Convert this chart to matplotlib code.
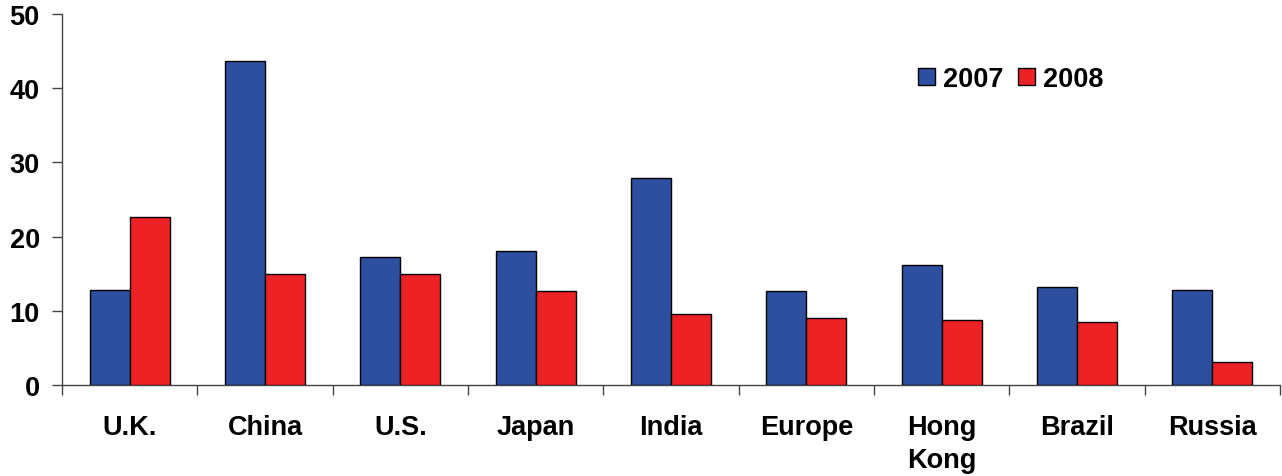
import numpy as np
from matplotlib import pyplot as plt
from matplotlib.patches import Patch

plt.rcParams['font.family'] = ['Liberation Sans', 'DejaVu Sans']
plt.rcParams['font.weight'] = 'bold'

categories = ['U.K.', 'China', 'U.S.', 'Japan', 'India', 'Europe',
              'Hong\nKong', 'Brazil', 'Russia']
values_2007 = [12.8, 43.7, 17.3, 18.1, 27.9, 12.7, 16.2, 13.2, 12.8]
values_2008 = [22.6, 15.0, 15.0, 12.7, 9.6, 9.0, 8.8, 8.5, 3.1]
yticks = [0, 10, 20, 30, 40, 50]

blue = '#2E4FA0'
red = '#EE2224'
fs = 19.5

fig = plt.figure(figsize=(12.82, 4.77), dpi=100)
ax = fig.add_axes([62 / 1282, 1 - 386 / 477, 1218 / 1282, 371 / 477])

x = np.arange(len(categories))
w = 0.295
ax.bar(x - w / 2, values_2007, w, color=blue, edgecolor='black',
       linewidth=1.0, zorder=3)
ax.bar(x + w / 2, values_2008, w, color=red, edgecolor='black',
       linewidth=1.0, zorder=3)

ax.set_xlim(-0.5, len(categories) - 0.5)
ax.set_ylim(0, 50)
ax.set_yticks(yticks)
ax.set_yticklabels([str(v) for v in yticks], fontsize=fs, fontweight='bold')

# category labels centred, ticks between categories
ax.set_xticks(np.arange(len(categories) + 1) - 0.5)
ax.set_xticklabels([])
ax.set_xticks(x, minor=True)
ax.set_xticklabels(categories, minor=True, fontsize=fs, fontweight='bold',
                   va='top', linespacing=1.35)
ax.tick_params(axis='x', which='minor', length=0, pad=21)
ax.tick_params(axis='x', which='major', length=7, direction='out',
               width=1.0, color='#444444')
ax.tick_params(axis='y', length=7, direction='out', width=1.0,
               color='#444444', pad=9)

for side in ['top', 'right']:
    ax.spines[side].set_visible(False)
for side in ['left', 'bottom']:
    ax.spines[side].set_color('#444444')
    ax.spines[side].set_linewidth(1.0)

handles = [Patch(facecolor=blue, edgecolor='black', label='2007'),
           Patch(facecolor=red, edgecolor='black', label='2008')]
ax.legend(handles=handles, loc='center', bbox_to_anchor=(0.779, 0.825),
          ncol=2, frameon=False, prop={'size': fs, 'weight': 'bold'},
          handlelength=0.6, handleheight=0.6, handletextpad=0.3,
          columnspacing=0.55)

fig.savefig('out.png', dpi=100)
